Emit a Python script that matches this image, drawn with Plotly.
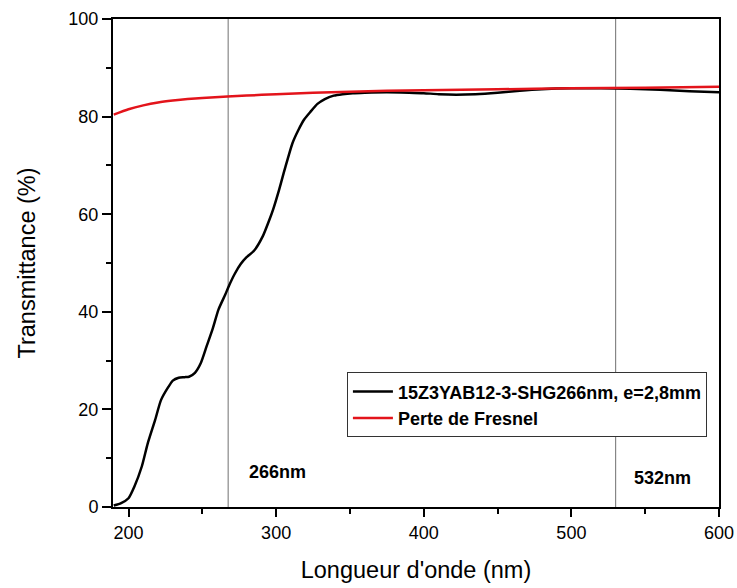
import plotly.graph_objects as go

wavelength = [190, 195, 200, 204, 209, 213, 218, 222, 227, 230, 234, 238, 241, 245, 249, 253, 257, 261,
              265.5, 268, 272, 276, 280, 285, 291, 295, 298, 302, 305, 308, 311, 315, 319, 323, 328, 333,
              339, 345, 352, 360, 375, 390, 400, 410, 422, 435, 450, 465, 480, 500, 520, 540, 560, 580, 600]
transmittance = [0.3, 0.8, 1.8, 4.2, 8.3, 13, 17.8, 21.9, 24.6, 25.9, 26.5, 26.6, 26.7, 27.5, 29.5, 33,
                 36.5, 40.5, 43.5, 45.3, 47.8, 49.8, 51.2, 52.5, 55.5, 58.5, 61, 65, 68.3, 71.5, 74.5,
                 77.2, 79.4, 80.9, 82.6, 83.6, 84.3, 84.6, 84.8, 84.9, 85, 84.9, 84.8, 84.6, 84.5, 84.6,
                 84.9, 85.3, 85.6, 85.8, 85.8, 85.7, 85.5, 85.2, 85.0]

wavelength_fresnel = [190, 200, 210, 220, 230, 240, 250, 267, 280, 300, 325, 350, 375, 400, 450, 500, 550, 600]
fresnel = [80.4, 81.5, 82.3, 82.9, 83.3, 83.6, 83.8, 84.1, 84.3, 84.6, 84.9, 85.1, 85.3, 85.4, 85.6, 85.8,
           85.9, 86.1]

marker_wl = [267.5, 530]
marker_labels = ["266nm", "532nm"]
label_pos_x = [280, 541]
label_pos_y = [7.2, 5.9]

series_names = ["15Z3YAB12-3-SHG266nm, e=2,8mm", "Perte de Fresnel"]

FONT = "Liberation Sans, Arial, sans-serif"

fig = go.Figure()
fig.add_trace(go.Scatter(x=wavelength, y=transmittance, mode="lines", name=series_names[0],
                         line=dict(color="black", width=2.5, shape="spline", smoothing=0.6)))
fig.add_trace(go.Scatter(x=wavelength_fresnel, y=fresnel, mode="lines", name=series_names[1],
                         line=dict(color="#e3141b", width=2.5, shape="spline", smoothing=0.6)))

for xv in marker_wl:
    fig.add_vline(x=xv, line=dict(color="#707070", width=1), layer="below")

for t, xv, yv in zip(marker_labels, label_pos_x, label_pos_y):
    fig.add_annotation(x=xv, y=yv, text=t, showarrow=False, xanchor="left", yanchor="middle",
                       font=dict(family=FONT, size=18, color="black", weight="bold"))

fig.update_layout(
    width=737, height=588,
    margin=dict(l=113, r=18, t=19, b=81, autoexpand=False),
    paper_bgcolor="white", plot_bgcolor="white",
    font=dict(family=FONT, color="black"),
    showlegend=True,
    legend=dict(x=0.386, y=0.276, xanchor="left", yanchor="top",
                bordercolor="#333333", borderwidth=1, bgcolor="white",
                font=dict(family=FONT, size=18, color="black", weight="bold"),
                tracegroupgap=0, itemwidth=40),
    xaxis=dict(range=[189.5, 600], tickvals=[200, 300, 400, 500, 600], showgrid=False, zeroline=False,
               automargin=False,
               showline=True, linecolor="black", linewidth=2, mirror=True,
               ticks="outside", ticklen=8, tickwidth=2, tickcolor="black",
               minor=dict(tickvals=[250, 350, 450, 550], ticks="outside", ticklen=5, tickwidth=2, tickcolor="black"),
               tickfont=dict(size=18),
               title=dict(text="Longueur d'onde (nm)", font=dict(size=23.5), standoff=20)),
    yaxis=dict(range=[0, 100], tickvals=[0, 20, 40, 60, 80, 100], showgrid=False, zeroline=False,
               automargin=False,
               showline=True, linecolor="black", linewidth=2, mirror=True,
               ticks="outside", ticklen=9, tickwidth=2, tickcolor="black",
               minor=dict(tickvals=[10, 30, 50, 70, 90], ticks="outside", ticklen=5, tickwidth=2, tickcolor="black"),
               tickfont=dict(size=18),
               title=dict(text="Transmittance (%)", font=dict(size=23.5), standoff=26)),
)

fig.write_html("out.html", config={"displayModeBar": False},
               post_script="document.body.style.margin='0';")
